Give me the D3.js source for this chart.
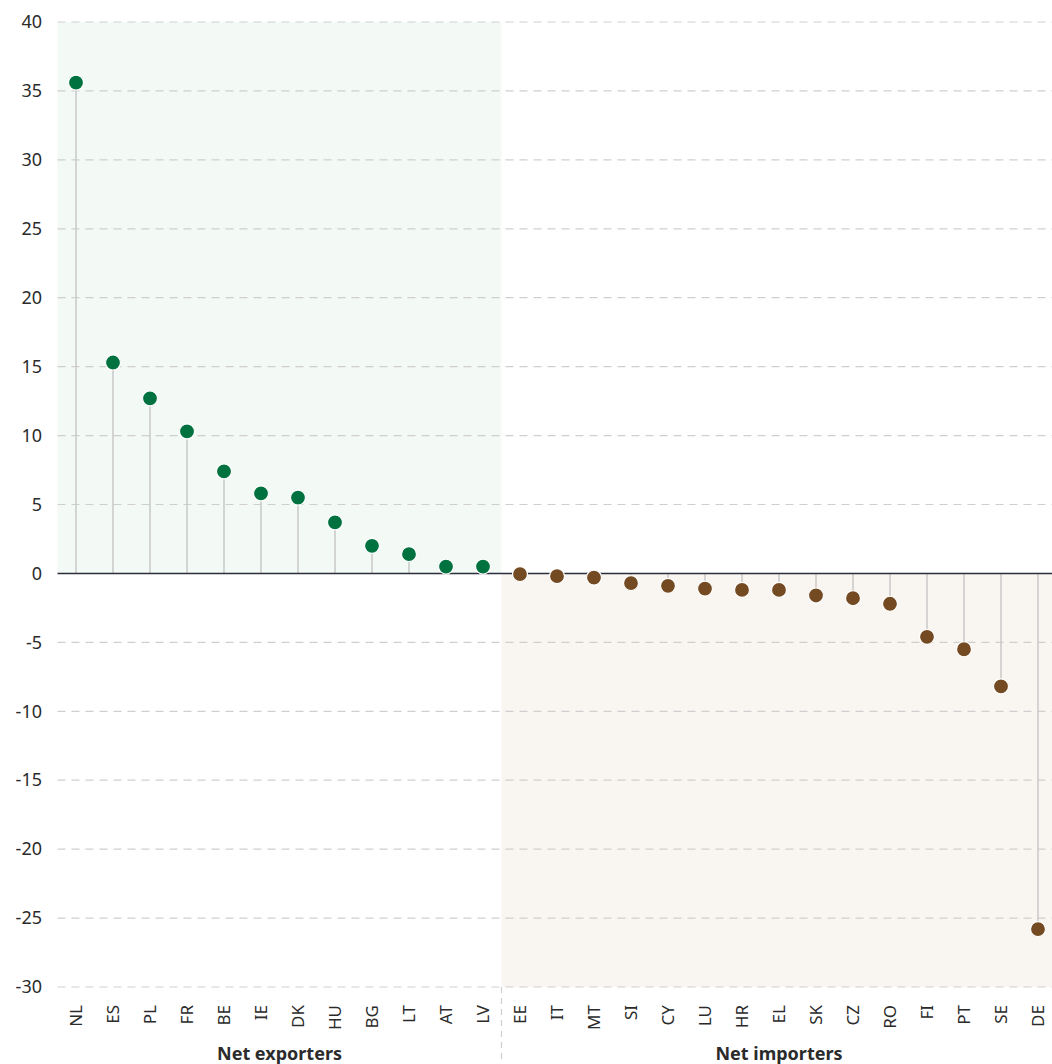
<!DOCTYPE html>
<html><head><meta charset="utf-8">
<script src="https://cdn.jsdelivr.net/npm/d3@7"></script>
<style>body{margin:0;background:#fff}svg text{font-family:"Noto Sans","Open Sans",sans-serif}</style>
</head><body><svg id="c" width="1052" height="1064"></svg>
<script>
const exporters = ["NL","ES","PL","FR","BE","IE","DK","HU","BG","LT","AT","LV"];
const exporterValues = [35.6,15.3,12.7,10.3,7.4,5.8,5.5,3.7,2.0,1.4,0.5,0.5];
const importers = ["EE","IT","MT","SI","CY","LU","HR","EL","SK","CZ","RO","FI","PT","SE","DE"];
const importerValues = [-0.05,-0.2,-0.3,-0.7,-0.9,-1.1,-1.2,-1.2,-1.6,-1.8,-2.2,-4.6,-5.5,-8.2,-25.8];
const yTicks = [-30,-25,-20,-15,-10,-5,0,5,10,15,20,25,30,35,40];
const groupLabels = ["Net exporters","Net importers"];

const data = exporters.map((c,i)=>({c,v:exporterValues[i],g:0}))
  .concat(importers.map((c,i)=>({c,v:importerValues[i],g:1})));

const svg = d3.select("#c");
const L=57.5, R=1056.5, T=22, B=987;
const x = d3.scaleBand().domain(data.map(d=>d.c)).range([L,R]).paddingInner(0).paddingOuter(0);
const y = d3.scaleLinear().domain([-30,40]).range([B,T]);
const cx = d=>x(d.c)+x.bandwidth()/2;
const split = x(importers[0]);

// shading
svg.append("rect").attr("x",L).attr("y",y(40)).attr("width",split-L).attr("height",y(0)-y(40)).attr("fill","#f3f9f5");
svg.append("rect").attr("x",split).attr("y",y(0)).attr("width",1052-split).attr("height",y(-30)-y(0)).attr("fill","#f9f6f1");

// grid
svg.append("g").selectAll("line").data(yTicks.filter(t=>t!==0)).join("line")
  .attr("x1",L).attr("x2",1052).attr("y1",d=>y(d)).attr("y2",d=>y(d))
  .attr("stroke","#cfcfcf").attr("stroke-width",1.2).attr("stroke-dasharray","8,6");

// y axis labels
const yAxis = d3.axisLeft(y).tickValues(yTicks).tickSize(0).tickPadding(0).tickFormat(d=>String(d));
const ga = svg.append("g").attr("transform",`translate(42,0)`).call(yAxis);
ga.select(".domain").remove();
ga.selectAll("text").attr("font-size",18).attr("fill","#2b2b2b");

// separator
svg.append("line").attr("x1",split).attr("x2",split).attr("y1",B).attr("y2",1064)
  .attr("stroke","#cfcfcf").attr("stroke-width",1.2).attr("stroke-dasharray","6,5");

// stems
svg.append("g").selectAll("line").data(data).join("line")
  .attr("x1",cx).attr("x2",cx).attr("y1",y(0)).attr("y2",d=>y(d.v))
  .attr("stroke","#c8c8c8").attr("stroke-width",1.5);

// zero line
svg.append("line").attr("x1",L).attr("x2",1052).attr("y1",y(0)).attr("y2",y(0))
  .attr("stroke","#2a2f3a").attr("stroke-width",1.5);

// dots
svg.append("g").selectAll("circle").data(data).join("circle")
  .attr("cx",cx).attr("cy",d=>y(d.v)).attr("r",7.5)
  .attr("fill",d=>d.g===0?"#00723f":"#744a22").attr("stroke","#fff").attr("stroke-width",1.2);

// x labels
const xAxis = d3.axisBottom(x).tickSize(0).tickPadding(0);
const gx = svg.append("g").attr("transform",`translate(0,${B})`).call(xAxis);
gx.select(".domain").remove();
gx.selectAll("text").attr("font-size",17).attr("fill","#2b2b2b")
  .attr("text-anchor","end").attr("dy","0.35em")
  .attr("transform","translate(0,18) rotate(-90)").attr("x",0).attr("y",0);

// group labels
svg.append("g").selectAll("text").data(groupLabels).join("text")
  .attr("x",(d,i)=>i===0?(L+split)/2:(split+R)/2).attr("y",1060)
  .attr("text-anchor","middle").attr("font-size",18).attr("font-weight","bold").attr("fill","#2b2b2b")
  .text(d=>d);
</script></body></html>
